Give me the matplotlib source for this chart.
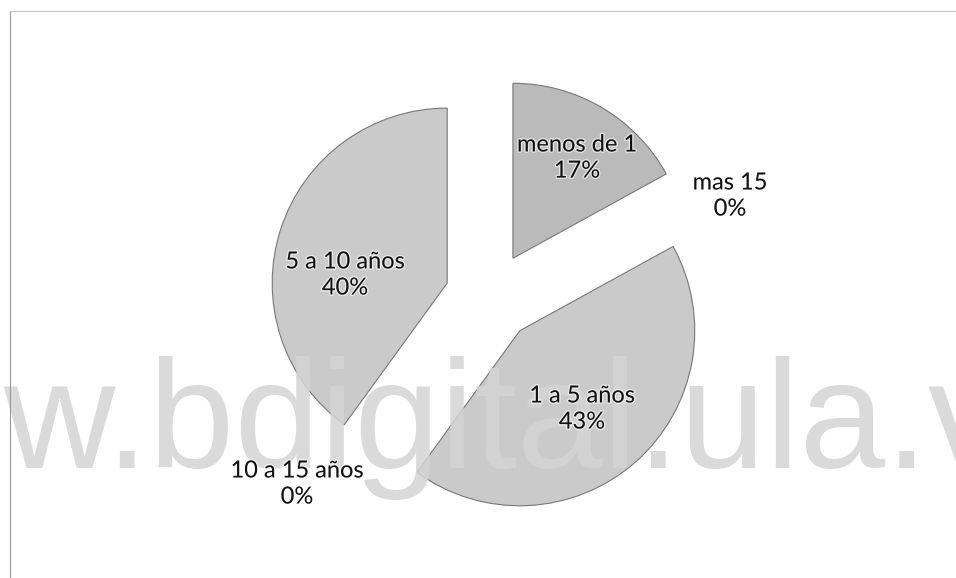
import matplotlib.pyplot as plt
import matplotlib.patheffects as pe
from matplotlib.lines import Line2D

# data (clockwise from the top)
categories = ["menos de 1", "mas 15", "1 a 5 años", "10 a 15 años", "5 a 10 años"]
percent = [17, 0, 43, 0, 40]
colors = ["#bababa", "#cacaca", "#cacaca", "#cacaca", "#cacaca"]

W, H = 956, 578
CX, CY, R = 490, 297, 175  # pie centre and radius in pixels


def px(x, y):
    # pixel position (from top-left) -> data units of the pie axes
    return (x - CX) / R, (CY - y) / R


# label centres in pixels
label_pos = [(577, 158), (730, 196), (582, 409), (297, 484), (345, 275)]

fig = plt.figure(figsize=(W / 100, H / 100), dpi=100)
ax = fig.add_axes([0, 0, 1, 1])

wedges, _ = ax.pie(percent, colors=colors, startangle=90, counterclock=False,
                   explode=[45 / R] * len(percent), radius=1,
                   wedgeprops=dict(edgecolor="#777777", linewidth=0.8))
for w, v in zip(wedges, percent):
    if v == 0:
        w.set_linewidth(0)

ax.set_aspect("auto")
ax.set_xlim(-CX / R, (W - CX) / R)
ax.set_ylim(-(H - CY) / R, CY / R)
ax.axis("off")

for cat, val, (lx, ly) in zip(categories, percent, label_pos):
    x, y = px(lx, ly)
    ax.text(x, y, f"{cat}\n{val}%", ha="center", va="center", fontsize=17,
            family="Lato", color="#111111", linespacing=1.3, zorder=6,
            path_effects=[pe.withStroke(linewidth=2, foreground="white", alpha=0.6)])

# watermark
ax.text(3 / W, 1 - 468 / H, "w.bdigital.ula.v", transform=fig.transFigure,
        fontsize=111, family="Liberation Sans", color="#d4d4d4", alpha=0.85,
        ha="left", va="baseline", zorder=4)

# scanned frame lines
fig.add_artist(Line2D([10 / W, 10 / W], [0, 1 - 11 / H], color="#999999", lw=0.8))
fig.add_artist(Line2D([10 / W, 1], [1 - 11 / H, 1 - 11 / H], color="#bbbbbb", lw=0.6))

fig.savefig("out.png", dpi=100)
